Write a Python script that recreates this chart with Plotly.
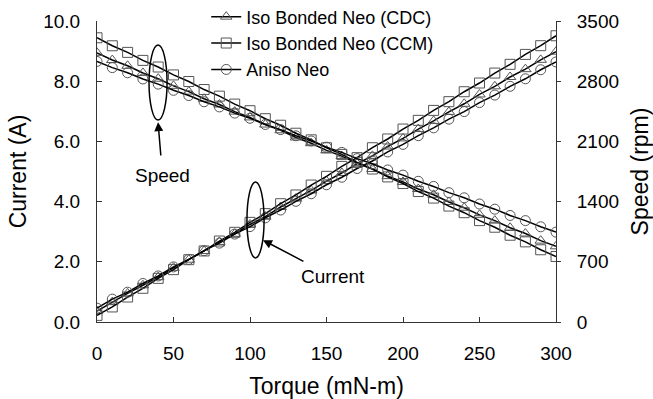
import plotly.graph_objects as go

torque = list(range(0, 301, 10))

current_cdc = [0.36, 0.66, 0.95, 1.22, 1.49, 1.80, 2.07, 2.36, 2.66, 2.93, 3.24, 3.50, 3.82, 4.10, 4.37, 4.68,
               4.95, 5.26, 5.52, 5.83, 6.10, 6.41, 6.68, 6.98, 7.25, 7.56, 7.83, 8.14, 8.40, 8.71, 8.98]
current_ccm = [0.22, 0.50, 0.83, 1.12, 1.45, 1.74, 2.07, 2.36, 2.69, 2.98, 3.31, 3.60, 3.93, 4.22, 4.55, 4.84,
               5.17, 5.46, 5.79, 6.08, 6.41, 6.70, 7.03, 7.32, 7.65, 7.94, 8.27, 8.56, 8.89, 9.18, 9.51]
current_aniso = [0.46, 0.76, 0.99, 1.28, 1.53, 1.83, 2.08, 2.37, 2.62, 2.92, 3.17, 3.46, 3.72, 4.01, 4.26, 4.56,
                 4.81, 5.10, 5.35, 5.65, 5.90, 6.19, 6.45, 6.74, 6.99, 7.29, 7.54, 7.83, 8.08, 8.38, 8.64]

speed_cdc = [3130, 3046, 2979, 2896, 2829, 2746, 2679, 2596, 2529, 2446, 2379, 2296, 2229, 2146, 2079, 1996,
             1929, 1846, 1779, 1696, 1629, 1546, 1479, 1396, 1329, 1246, 1179, 1096, 1029, 946, 880]
speed_ccm = [3305, 3212, 3135, 3042, 2965, 2873, 2796, 2703, 2626, 2534, 2457, 2364, 2288, 2195, 2118, 2026,
             1949, 1856, 1779, 1687, 1610, 1517, 1441, 1348, 1271, 1179, 1102, 1009, 932, 840, 762]
speed_aniso = [3030, 2958, 2898, 2826, 2766, 2694, 2633, 2561, 2501, 2429, 2369, 2297, 2237, 2165, 2105, 2033,
               1972, 1900, 1840, 1768, 1708, 1636, 1576, 1504, 1444, 1372, 1312, 1239, 1179, 1107, 1045]

series_names = ["Iso Bonded Neo (CDC)", "Iso Bonded Neo (CCM)", "Aniso Neo"]
symbols = ["triangle-up-open", "square-open", "circle-open"]

FONT = "Liberation Sans, Arial, sans-serif"
MK = "#555"

fig = go.Figure()

for name, sym, cur in zip(series_names, symbols, [current_cdc, current_ccm, current_aniso]):
    fig.add_trace(go.Scatter(x=torque, y=cur, mode="lines+markers", name=name,
                             line=dict(color="black", width=1.5),
                             marker=dict(symbol=sym, size=10, color=MK, line=dict(width=1, color=MK)),
                             yaxis="y", showlegend=True))
for name, sym, sp in zip(series_names, symbols, [speed_cdc, speed_ccm, speed_aniso]):
    fig.add_trace(go.Scatter(x=torque, y=sp, mode="lines+markers", name=name,
                             line=dict(color="black", width=1.5),
                             marker=dict(symbol=sym, size=10, color=MK, line=dict(width=1, color=MK)),
                             yaxis="y2", showlegend=False))

# ellipses
fig.add_shape(type="circle", xref="x", yref="y", x0=34.0, x1=45.8, y0=6.71, y1=9.20,
              line=dict(color="black", width=1.5))
fig.add_shape(type="circle", xref="x", yref="y", x0=98.0, x1=109.2, y0=2.13, y1=4.65,
              line=dict(color="black", width=1.5))

fig.add_annotation(x=39.9, y=6.64, ax=41.8, ay=5.48, xref="x", yref="y", axref="x", ayref="y",
                   showarrow=True, arrowhead=2, arrowsize=1.2, arrowwidth=1.5, arrowcolor="black", text="")
fig.add_annotation(x=108.5, y=2.72, ax=135.9, ay=1.99, xref="x", yref="y", axref="x", ayref="y",
                   showarrow=True, arrowhead=2, arrowsize=1.2, arrowwidth=1.5, arrowcolor="black", text="")
fig.add_annotation(x=42.8, y=4.88, xref="x", yref="y", text="Speed", showarrow=False,
                   font=dict(size=19, color="black", family=FONT))
fig.add_annotation(x=154.2, y=1.50, xref="x", yref="y", text="Current", showarrow=False,
                   font=dict(size=19, color="black", family=FONT))

axcol = "#333"
fig.update_layout(
    width=653, height=399,
    margin=dict(l=97, r=97, t=21, b=77, autoexpand=False),
    paper_bgcolor="white", plot_bgcolor="white",
    font=dict(family=FONT, size=19, color="black"),
    xaxis=dict(range=[0, 300], tickmode="linear", tick0=0, dtick=50, showgrid=False, zeroline=False,
               showline=True, linecolor=axcol, linewidth=1, ticks="inside", ticklen=5, tickcolor=axcol,
               ticklabelstandoff=14, automargin=True,
               title=dict(text="Torque (mN-m)", standoff=26)),
    yaxis=dict(range=[0, 10], tickmode="linear", tick0=0, dtick=2, tickformat=".1f", showgrid=False,
               zeroline=False, showline=True, linecolor=axcol, linewidth=1, ticks="inside", ticklen=5,
               tickcolor=axcol, ticklabelstandoff=12, automargin=True,
               title=dict(text="Current (A)", standoff=10)),
    yaxis2=dict(range=[0, 3500], tickmode="linear", tick0=0, dtick=700, overlaying="y", side="right",
                showgrid=False, zeroline=False, showline=True, linecolor=axcol, linewidth=1,
                ticks="outside", ticklen=4, tickcolor=axcol, ticklabelstandoff=12, automargin=True,
                title=dict(text="Speed (rpm)", standoff=18)),
    legend=dict(x=0.238, y=1.075, xanchor="left", yanchor="top",
                bgcolor="rgba(0,0,0,0)", font=dict(size=18, family=FONT)),
)

fig.write_html("out.html", config={"displayModeBar": False},
               post_script="document.body.style.margin='0px';")
